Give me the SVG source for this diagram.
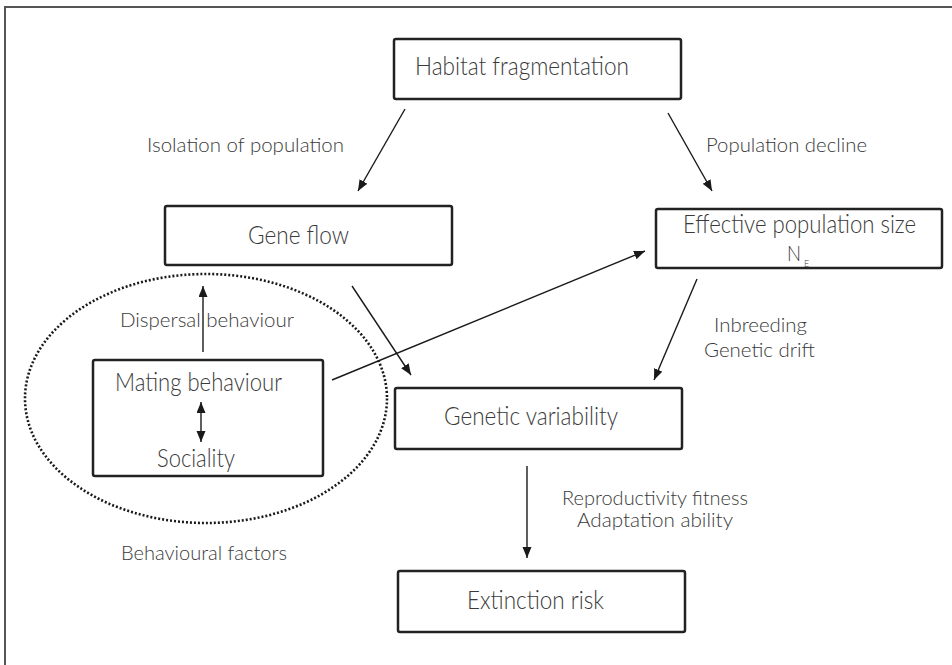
<svg xmlns="http://www.w3.org/2000/svg" width="952" height="665" viewBox="0 0 952 665">
<defs>
<style>
.box{fill:#fff;stroke:#222;stroke-width:2.5}
.bt{font-family:Lato,"Open Sans","Liberation Sans",sans-serif;font-size:25px;font-weight:300;fill:#3a3a3a}
.lt{font-family:Lato,"Open Sans","Liberation Sans",sans-serif;font-size:20px;font-weight:300;fill:#3a3a3a}
.con{stroke:#1a1a1a;stroke-width:1.4;fill:none}
.frame{stroke:#555;stroke-width:2;fill:none}
</style>
<marker id="ah" markerUnits="userSpaceOnUse" markerWidth="12" markerHeight="10" refX="11" refY="4.5" orient="auto">
<path d="M0,0 L11,4.5 L0,9 z" fill="#1a1a1a"/>
</marker>
<marker id="ahs" markerUnits="userSpaceOnUse" markerWidth="12" markerHeight="10" refX="11" refY="4.5" orient="auto-start-reverse">
<path d="M0,0 L11,4.5 L0,9 z" fill="#1a1a1a"/>
</marker>
</defs>
<rect width="952" height="665" fill="#fff"/>
<path class="frame" d="M5,665 L5,7 L952,7"/>

<g id="behavioural-factors">
<ellipse cx="206" cy="398.5" rx="181" ry="124.5" fill="none" stroke="#1a1a1a" stroke-width="2.6" stroke-dasharray="2 2"/>
<text class="lt" x="121" y="560" textLength="166" lengthAdjust="spacingAndGlyphs">Behavioural factors</text>
</g>

<g id="habitat">
<rect class="box" x="394" y="39" width="287" height="60" rx="2"/>
<text class="bt" x="415" y="75" textLength="214" lengthAdjust="spacingAndGlyphs">Habitat fragmentation</text>
</g>
<g id="gene-flow">
<rect class="box" x="165" y="206" width="287" height="59" rx="2"/>
<text class="bt" x="248" y="244" textLength="101" lengthAdjust="spacingAndGlyphs">Gene flow</text>
</g>
<g id="effective-population">
<rect class="box" x="656" y="209" width="286" height="59" rx="2"/>
<text class="bt" x="683" y="233" textLength="233" lengthAdjust="spacingAndGlyphs">Effective population size</text>
<text class="bt" x="787" y="261" style="font-size:22px" textLength="14" lengthAdjust="spacingAndGlyphs">N</text>
<text class="bt" x="804" y="267" style="font-size:9px">E</text>
</g>
<g id="mating">
<rect class="box" x="93" y="360" width="230" height="116" rx="2"/>
<text class="bt" x="115" y="391" textLength="167" lengthAdjust="spacingAndGlyphs">Mating behaviour</text>
<text class="bt" x="157" y="467" textLength="78" lengthAdjust="spacingAndGlyphs">Sociality</text>
</g>
<g id="genetic-variability">
<rect class="box" x="395" y="388" width="287" height="61" rx="2"/>
<text class="bt" x="444" y="425" textLength="174" lengthAdjust="spacingAndGlyphs">Genetic variability</text>
</g>
<g id="extinction">
<rect class="box" x="398" y="571" width="287" height="61" rx="2"/>
<text class="bt" x="467" y="609" textLength="137" lengthAdjust="spacingAndGlyphs">Extinction risk</text>
</g>

<g id="connectors">
<line class="con" x1="405" y1="109" x2="358" y2="191" marker-end="url(#ah)"/>
<line class="con" x1="668" y1="113" x2="712" y2="191" marker-end="url(#ah)"/>
<line class="con" x1="352" y1="286" x2="411" y2="375" marker-end="url(#ah)"/>
<line class="con" x1="332" y1="380" x2="645" y2="251" marker-end="url(#ah)"/>
<line class="con" x1="697" y1="279" x2="654" y2="380" marker-end="url(#ah)"/>
<line class="con" x1="527" y1="466" x2="527" y2="558" marker-end="url(#ah)"/>
<line class="con" x1="203" y1="352" x2="203" y2="286" marker-end="url(#ah)"/>
<line class="con" x1="201" y1="402" x2="201" y2="442" marker-start="url(#ahs)" marker-end="url(#ah)"/>
</g>

<g id="labels">
<text class="lt" x="147" y="152" textLength="197" lengthAdjust="spacingAndGlyphs">Isolation of population</text>
<text class="lt" x="706" y="152" textLength="161" lengthAdjust="spacingAndGlyphs">Population decline</text>
<text class="lt" x="120" y="327" textLength="174" lengthAdjust="spacingAndGlyphs">Dispersal behaviour</text>
<text class="lt" x="714" y="332" textLength="93" lengthAdjust="spacingAndGlyphs">Inbreeding</text>
<text class="lt" x="704" y="357" textLength="111" lengthAdjust="spacingAndGlyphs">Genetic drift</text>
<text class="lt" x="562" y="505" textLength="186" lengthAdjust="spacingAndGlyphs">Reproductivity fitness</text>
<text class="lt" x="577" y="527" textLength="156" lengthAdjust="spacingAndGlyphs">Adaptation ability</text>
</g>
</svg>
